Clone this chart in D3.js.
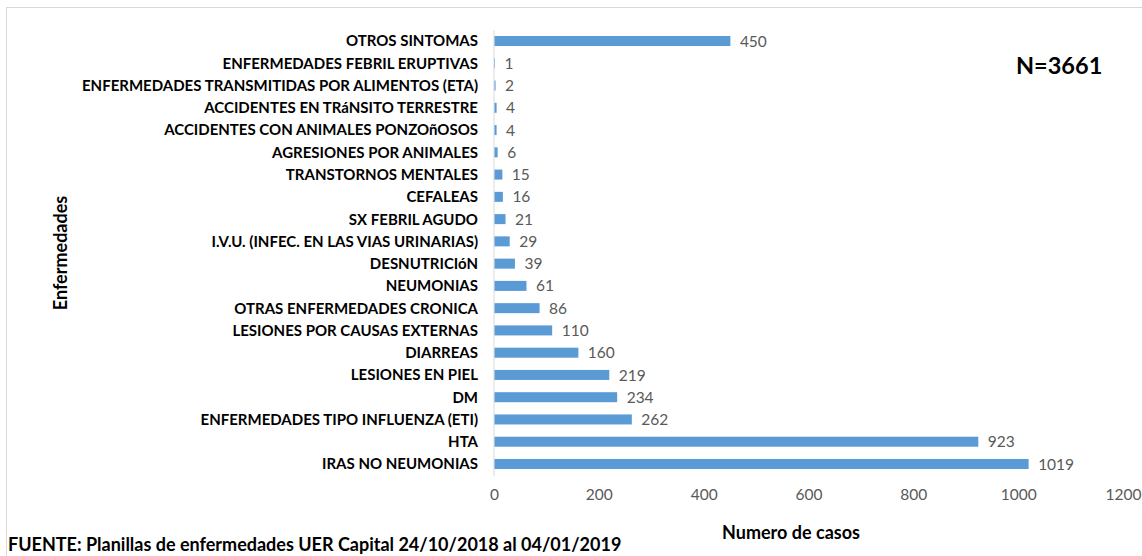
<!DOCTYPE html>
<html lang="es">
  <head>
    <meta charset="UTF-8" />
    <title>Enfermedades</title>
    <script src="https://cdn.jsdelivr.net/npm/d3@7"></script>
    <style>
      body { margin: 0; background: #fff; }
      text { font-family: Lato, "Open Sans", sans-serif; }
    </style>
  </head>
  <body>
    <script>
      // categorias de arriba hacia abajo
      var categorias = [
        "OTROS SINTOMAS",
        "ENFERMEDADES FEBRIL ERUPTIVAS",
        "ENFERMEDADES TRANSMITIDAS POR ALIMENTOS (ETA)",
        "ACCIDENTES EN TRáNSITO TERRESTRE",
        "ACCIDENTES CON ANIMALES PONZOñOSOS",
        "AGRESIONES POR ANIMALES",
        "TRANSTORNOS MENTALES",
        "CEFALEAS",
        "SX FEBRIL AGUDO",
        "I.V.U. (INFEC. EN LAS VIAS URINARIAS)",
        "DESNUTRICIóN",
        "NEUMONIAS",
        "OTRAS ENFERMEDADES CRONICA",
        "LESIONES POR CAUSAS EXTERNAS",
        "DIARREAS",
        "LESIONES EN PIEL",
        "DM",
        "ENFERMEDADES TIPO INFLUENZA (ETI)",
        "HTA",
        "IRAS NO NEUMONIAS"
      ];
      var casos = [450, 1, 2, 4, 4, 6, 15, 16, 21, 29, 39, 61, 86, 110, 160, 219, 234, 262, 923, 1019];
      var ticks = [0, 200, 400, 600, 800, 1000, 1200];

      var W = 1142, H = 556;
      var svg = d3.select("body").append("svg").attr("width", W).attr("height", H);

      // marco
      svg.append("rect")
        .attr("x", 6.5).attr("y", 7.5)
        .attr("width", W).attr("height", H)
        .attr("fill", "none").attr("stroke", "#d9d9d9");

      var x = d3.scaleLinear().domain([0, 1200]).range([494, 1123]);
      var y = d3.scaleBand().domain(categorias).range([30, 475]).paddingInner(0.55).paddingOuter(0.27);

      // linea del eje vertical
      svg.append("line")
        .attr("x1", x(0)).attr("x2", x(0))
        .attr("y1", 30).attr("y2", 476)
        .attr("stroke", "#d9d9d9");

      svg.selectAll(".bar").data(casos).enter().append("rect")
        .attr("class", "bar")
        .attr("x", x(0) + 0.5)
        .attr("y", function (d, i) { return y(categorias[i]); })
        .attr("width", function (d) { return x(d) - x(0); })
        .attr("height", y.bandwidth())
        .attr("fill", "#5b9bd5");

      svg.selectAll(".val").data(casos).enter().append("text")
        .attr("class", "val")
        .attr("x", function (d) { return x(d) + 10; })
        .attr("y", function (d, i) { return y(categorias[i]) + y.bandwidth() / 2; })
        .attr("dy", "0.36em")
        .attr("font-size", 15.5)
        .attr("fill", "#595959")
        .text(function (d) { return d; });

      svg.selectAll(".cat").data(categorias).enter().append("text")
        .attr("class", "cat")
        .attr("x", 478)
        .attr("y", function (d) { return y(d) + y.bandwidth() / 2; })
        .attr("dy", "0.36em")
        .attr("text-anchor", "end")
        .attr("font-size", 15)
        .attr("font-weight", "bold")
        .attr("fill", "#000")
        .text(function (d) { return d; });

      // eje x
      var xAxis = d3.axisBottom(x).tickValues(ticks).tickFormat(d3.format("d")).tickSize(0).tickPadding(0);
      var gx = svg.append("g").attr("transform", "translate(0,489)").call(xAxis);
      gx.select(".domain").remove();
      gx.selectAll("text")
        .attr("font-size", 15.5)
        .attr("fill", "#595959")
        .attr("font-family", "Lato, 'Open Sans', sans-serif");

      svg.append("text")
        .attr("x", 791).attr("y", 539)
        .attr("text-anchor", "middle")
        .attr("font-size", 18).attr("font-weight", "bold")
        .text("Numero de casos");

      svg.append("text")
        .attr("transform", "translate(67,253) rotate(-90)")
        .attr("text-anchor", "middle")
        .attr("font-size", 18).attr("font-weight", "bold")
        .text("Enfermedades");

      svg.append("text")
        .attr("x", 1016).attr("y", 74)
        .attr("font-size", 23.5).attr("font-weight", "bold")
        .text("N=3661");

      svg.append("text")
        .attr("x", 8).attr("y", 551)
        .attr("font-size", 18).attr("font-weight", "bold")
        .text("FUENTE: Planillas de enfermedades UER Capital 24/10/2018 al 04/01/2019");
    </script>
  </body>
</html>
